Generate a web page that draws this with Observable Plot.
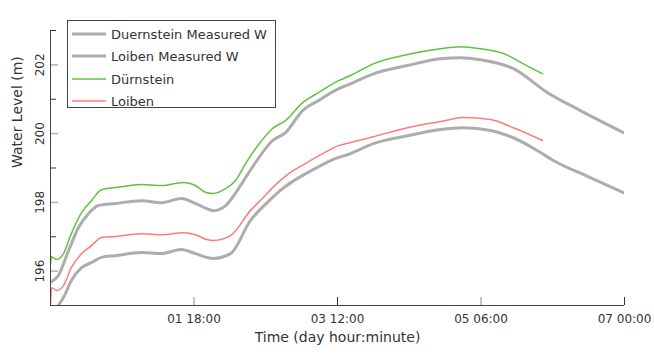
<!DOCTYPE html>
<html><head><meta charset="utf-8">
<script src="https://cdn.jsdelivr.net/npm/d3@7"></script>
<script src="https://cdn.jsdelivr.net/npm/@observablehq/plot@0.6"></script>
<style>
body{margin:0;background:#fff;font-family:"DejaVu Sans",sans-serif;}
#wrap{position:relative;width:654px;height:356px;}
#legend{position:absolute;left:67px;top:20px;width:209px;height:88px;border:1px solid #444;background:#fff;box-sizing:border-box;}
.item{position:absolute;left:0;height:22px;display:flex;align-items:center;font-size:13px;color:#333;}
.item svg{margin-left:4px;margin-right:5px;}
</style></head>
<body><div id="wrap"><div id="chart"></div><div id="legend"></div></div>
<script>
// hours since day 00 00:00
const duernMeasH = [0,2.3,5.3,8.2,11.1,14.0,19.0,26.6,32.5,38.3,42.4,45.7,47.7,51.2,54.1,57.1,60.0,65.0,68.8,73.8,78.4,84.3,87.8,94.5,104.5,114.1,120.0,125.9,135.5,145.5,155.1,167.7];
const duernMeasV = [195.68,195.87,196.60,197.27,197.67,197.91,197.97,198.05,197.99,198.11,197.97,197.82,197.76,197.90,198.26,198.72,199.16,199.80,200.03,200.67,200.96,201.31,201.45,201.74,201.98,202.18,202.21,202.15,201.89,201.19,200.67,200.03];

const loibenMeasH = [0,2.3,3.8,6.1,9.1,12.0,14.9,19.0,26.6,32.5,38.3,42.4,45.7,47.7,52.7,58.5,63.5,68.2,73.2,78.1,82.8,87.8,94.5,104.5,114.1,120.9,128.8,135.5,143.4,147.2,158.0,167.7];
const loibenMeasV = [194.7,195.0,195.23,195.73,196.10,196.25,196.40,196.45,196.54,196.51,196.63,196.51,196.40,196.37,196.51,197.47,198.0,198.42,198.75,199.02,199.25,199.42,199.71,199.94,200.12,200.17,200.09,199.88,199.45,199.22,198.72,198.28];

const duernModH = [0,0.3,1.8,3.8,6.1,9.1,12.0,14.9,19.0,26.6,32.5,38.9,42.4,45.7,47.7,51.2,54.1,57.1,60.0,65.0,68.8,73.8,78.4,84.3,87.8,94.5,104.5,114.1,120.0,125.9,132.6,138.4,144.0];
const duernModV = [196.22,196.42,196.34,196.51,197.09,197.70,198.05,198.37,198.43,198.52,198.49,198.58,198.49,198.28,198.26,198.40,198.63,199.13,199.56,200.15,200.38,200.90,201.19,201.54,201.69,202.03,202.30,202.47,202.53,202.47,202.33,202.03,201.74];

const loibenModH = [0,0.3,1.8,3.8,6.1,9.1,12.0,14.9,19.0,26.6,32.5,38.9,42.4,45.7,47.7,52.7,58.5,62.0,65.0,69.0,74.6,79.0,84.3,87.8,94.5,104.5,114.1,120.9,128.8,135.5,144.0];
const loibenModV = [195.0,195.52,195.44,195.58,196.10,196.51,196.74,196.98,197.01,197.09,197.06,197.12,197.06,196.92,196.89,197.03,197.76,198.11,198.43,198.78,199.13,199.38,199.65,199.74,199.91,200.17,200.35,200.47,200.41,200.17,199.80];

const seriesNames = ["Duernstein Measured W","Loiben Measured W","D\u00fcrnstein","Loiben"];
const seriesColors = ["#adadad","#adadad","#5cc43e","#ff7b7b"];
const seriesWidths = [3,3,1.5,1.5];

const xLabeledTicks = [42,126];   // gray ticks
const xDarkTicks = [84,168];      // dark ticks
const yLabeledTicks = [196,198,200,202];
const yDarkTicks = [197,199,201,203];
const xTitle = "Time (day hour:minute)";
const yTitle = "Water Level (m)";

const fmtTime = h => {
  const d = Math.floor(h/24), hr = h%24;
  return String(d).padStart(2,"0")+" "+String(hr).padStart(2,"0")+":00";
};

const toRows = (H,V,s) => H.map((h,i)=>({h, v:V[i], s}));
const series = [
  toRows(duernMeasH,duernMeasV,0),
  toRows(loibenMeasH,loibenMeasV,1),
  toRows(duernModH,duernModV,2),
  toRows(loibenModH,loibenModV,3)
];

const chart = Plot.plot({
  width:654, height:356,
  marginLeft:50, marginRight:30, marginTop:30, marginBottom:51,
  style:{fontFamily:"DejaVu Sans, sans-serif", fontSize:"12px", color:"#333", background:"#fff"},
  x:{domain:[0,168]},
  y:{domain:[195,203]},
  marks:[
    ...series.map((d,i)=>Plot.line(d,{x:"h",y:"v",stroke:seriesColors[i],strokeWidth:seriesWidths[i],curve:"monotone-x",clip:true})),
    // tick marks (inward)
    Plot.axisX({ticks:xLabeledTicks, tickSize:-8, stroke:"#b0b0b0", strokeWidth:1.5, tickFormat:()=>"", label:null}),
    Plot.axisX({ticks:xDarkTicks, tickSize:-8, stroke:"#333", tickFormat:()=>"", label:null}),
    Plot.axisY({ticks:yLabeledTicks, tickSize:-8, stroke:"#b0b0b0", strokeWidth:1.5, tickFormat:()=>"", label:null}),
    Plot.axisY({ticks:yDarkTicks, tickSize:-6, stroke:"#333", tickFormat:()=>"", label:null}),
    // tick labels
    Plot.axisX({ticks:[...xLabeledTicks,...xDarkTicks].sort((a,b)=>a-b), tickSize:0, tickPadding:9, tickFormat:fmtTime, fontSize:12, label:null}),
    Plot.axisY({ticks:yLabeledTicks, tickSize:0, tickPadding:10, rotate:-90, textAnchor:"middle", fontSize:12, label:null}),
    // axis titles
    Plot.text([xTitle],{text:d=>d, frameAnchor:"bottom", dy:36, fontSize:14, fill:"#333"}),
    Plot.text([yTitle],{text:d=>d, frameAnchor:"left", dx:-33, rotate:-90, fontSize:14, fill:"#333"}),
    Plot.ruleX([0],{stroke:"#444"}),
    Plot.ruleY([195],{stroke:"#444"})
  ]
});
document.getElementById("chart").appendChild(chart);

const lg = document.getElementById("legend");
const tops = [2,24,47,69];
seriesNames.forEach((n,i)=>{
  const it = document.createElement("div");
  it.className="item"; it.style.top = tops[i]+"px";
  it.innerHTML = `<svg width="34" height="6"><line x1="0" x2="34" y1="3" y2="3" stroke="${seriesColors[i]}" stroke-width="${seriesWidths[i]}"/></svg><span>${n}</span>`;
  lg.appendChild(it);
});
</script></body></html>
